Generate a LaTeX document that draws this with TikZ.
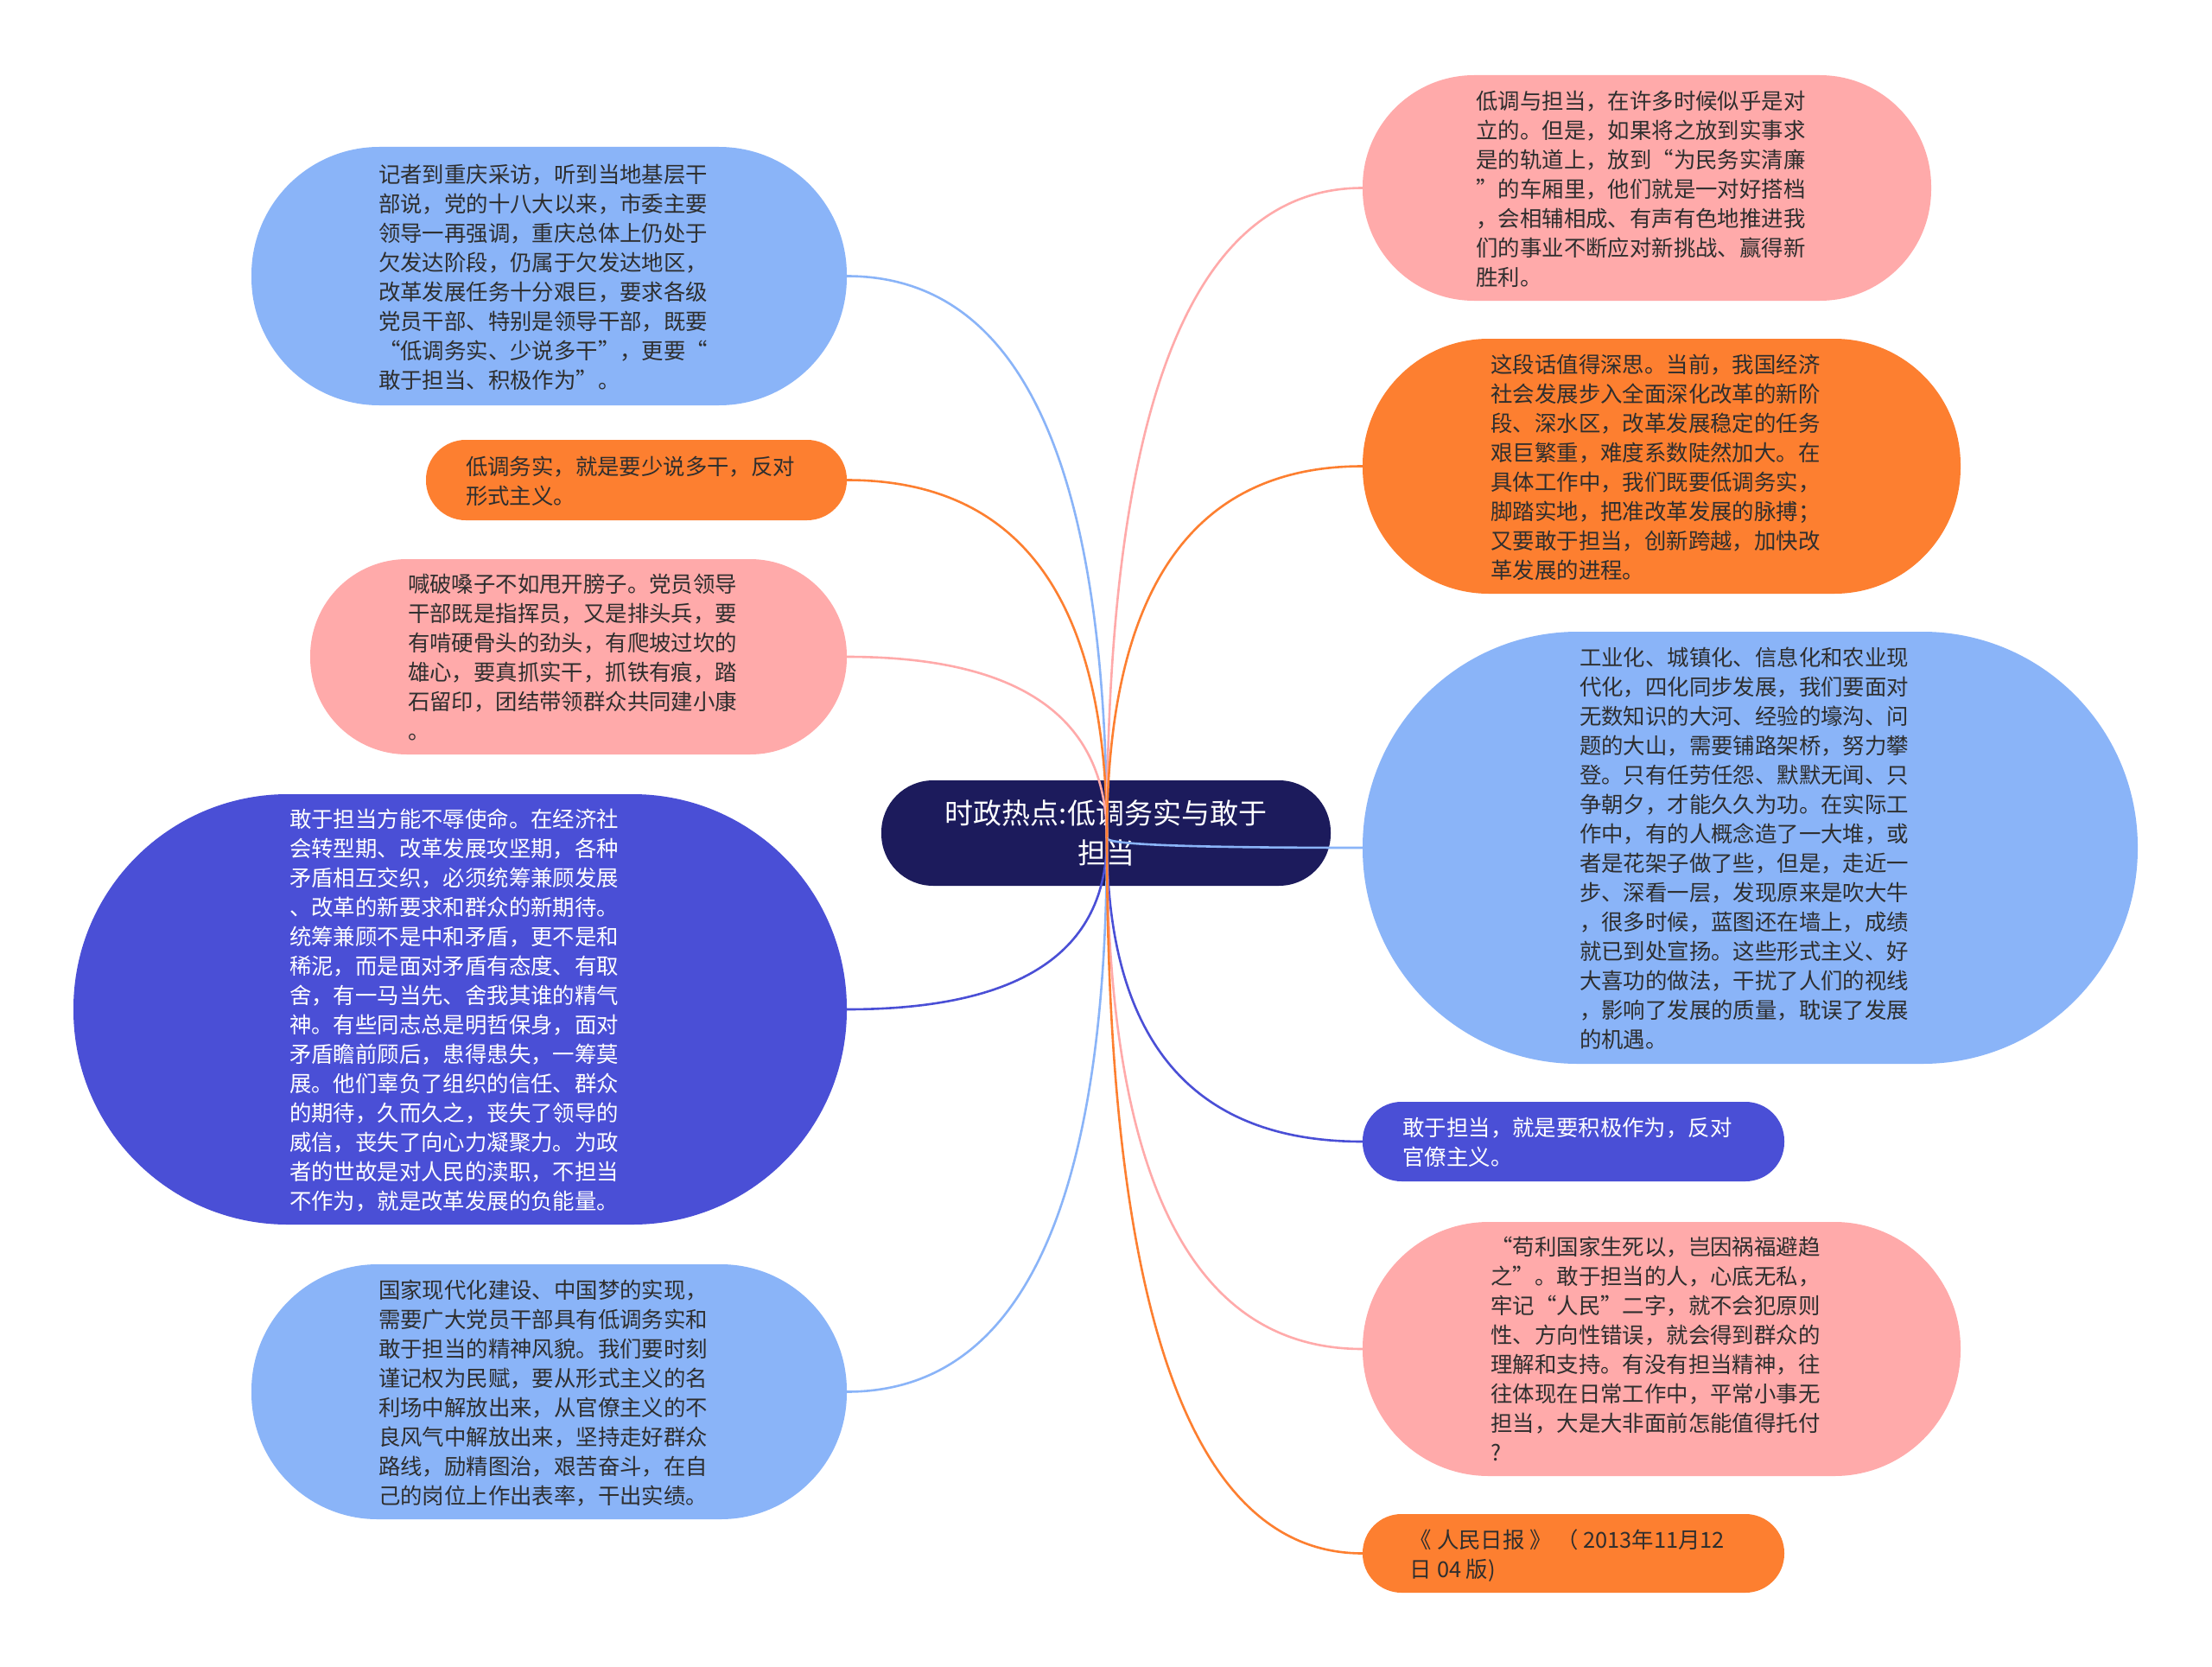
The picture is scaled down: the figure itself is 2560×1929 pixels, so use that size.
\documentclass[tikz,border=0pt]{standalone}
\usepackage{fontspec}
\setmainfont{Noto Sans CJK SC}
\usetikzlibrary{calc}
\definecolor{cnavy}{HTML}{1C1B5C}
\definecolor{clblue}{HTML}{8AB4F8}
\definecolor{corange}{HTML}{FD7F30}
\definecolor{cpink}{HTML}{FFAAAA}
\definecolor{cindigo}{HTML}{4A4FD6}
\definecolor{ctxt}{HTML}{2E2E2E}
\newcommand\mytab[1]{\raisebox{-4pt}[\height][\depth]{\begin{tabular}{@{}l@{\hspace{14pt}}}#1\end{tabular}}}
\begin{document}
\begin{tikzpicture}[x=1pt,y=-1pt,
  box/.style={inner sep=0pt, font=\fontsize{25.4pt}{34pt}\selectfont, text=ctxt},
  wbox/.style={box, text=white},
  conn/.style={line width=2.6pt, to path={.. controls ($(\tikztostart)!0.667!(\tikztostart |- \tikztotarget)$) and ($(\tikztotarget)!0.667!(\tikztostart |- \tikztotarget)$) .. (\tikztotarget)}}
]
\fill[white] (0,0) rectangle (2560,1929);
\useasboundingbox (0,0) rectangle (2560,1929);

% left nodes
\node[box, fill=clblue, minimum width=689pt, minimum height=299pt, rounded corners=148pt] (L1) at (635.5,319.5) {\mytab{记者到重庆采访，听到当地基层干\\部说，党的十八大以来，市委主要\\领导一再强调，重庆总体上仍处于\\欠发达阶段，仍属于欠发达地区，\\改革发展任务十分艰巨，要求各级\\党员干部、特别是领导干部，既要\\“低调务实、少说多干”，更要“\\敢于担当、积极作为”。}};
\node[box, fill=corange, minimum width=487pt, minimum height=93pt, rounded corners=46pt] (L2) at (736.5,555.5) {\mytab{低调务实，就是要少说多干，反对\\形式主义。}};
\node[box, fill=cpink, minimum width=621pt, minimum height=226pt, rounded corners=112pt] (L3) at (669.5,760) {\mytab{喊破嗓子不如甩开膀子。党员领导\\干部既是指挥员，又是排头兵，要\\有啃硬骨头的劲头，有爬坡过坎的\\雄心，要真抓实干，抓铁有痕，踏\\石留印，团结带领群众共同建小康\\。}};
\node[wbox, fill=cindigo, minimum width=895pt, minimum height=498pt, rounded corners=248pt] (L4) at (532.5,1168) {\mytab{敢于担当方能不辱使命。在经济社\\会转型期、改革发展攻坚期，各种\\矛盾相互交织，必须统筹兼顾发展\\、改革的新要求和群众的新期待。\\统筹兼顾不是中和矛盾，更不是和\\稀泥，而是面对矛盾有态度、有取\\舍，有一马当先、舍我其谁的精气\\神。有些同志总是明哲保身，面对\\矛盾瞻前顾后，患得患失，一筹莫\\展。他们辜负了组织的信任、群众\\的期待，久而久之，丧失了领导的\\威信，丧失了向心力凝聚力。为政\\者的世故是对人民的渎职，不担当\\不作为，就是改革发展的负能量。}};
\node[box, fill=clblue, minimum width=689pt, minimum height=295pt, rounded corners=146pt] (L5) at (635.5,1610.5) {\mytab{国家现代化建设、中国梦的实现，\\需要广大党员干部具有低调务实和\\敢于担当的精神风貌。我们要时刻\\谨记权为民赋，要从形式主义的名\\利场中解放出来，从官僚主义的不\\良风气中解放出来，坚持走好群众\\路线，励精图治，艰苦奋斗，在自\\己的岗位上作出表率，干出实绩。}};

% right nodes
\node[box, fill=cpink, minimum width=658pt, minimum height=261pt, rounded corners=129pt] (R1) at (1906,217.5) {\mytab{低调与担当，在许多时候似乎是对\\立的。但是，如果将之放到实事求\\是的轨道上，放到“为民务实清廉\\”的车厢里，他们就是一对好搭档\\，会相辅相成、有声有色地推进我\\们的事业不断应对新挑战、赢得新\\胜利。}};
\node[box, fill=corange, minimum width=692pt, minimum height=295pt, rounded corners=146pt] (R2) at (1923,539.5) {\mytab{这段话值得深思。当前，我国经济\\社会发展步入全面深化改革的新阶\\段、深水区，改革发展稳定的任务\\艰巨繁重，难度系数陡然加大。在\\具体工作中，我们既要低调务实，\\脚踏实地，把准改革发展的脉搏；\\又要敢于担当，创新跨越，加快改\\革发展的进程。}};
\node[box, fill=clblue, minimum width=897pt, minimum height=500pt, rounded corners=249pt] (R3) at (2025.5,981) {\mytab{工业化、城镇化、信息化和农业现\\代化，四化同步发展，我们要面对\\无数知识的大河、经验的壕沟、问\\题的大山，需要铺路架桥，努力攀\\登。只有任劳任怨、默默无闻、只\\争朝夕，才能久久为功。在实际工\\作中，有的人概念造了一大堆，或\\者是花架子做了些，但是，走近一\\步、深看一层，发现原来是吹大牛\\，很多时候，蓝图还在墙上，成绩\\就已到处宣扬。这些形式主义、好\\大喜功的做法，干扰了人们的视线\\，影响了发展的质量，耽误了发展\\的机遇。}};
\node[wbox, fill=cindigo, minimum width=488pt, minimum height=92pt, rounded corners=45pt] (R4) at (1821,1321) {\mytab{敢于担当，就是要积极作为，反对\\官僚主义。}};
\node[box, fill=cpink, minimum width=692pt, minimum height=294pt, rounded corners=146pt] (R5) at (1923,1561) {\mytab{“苟利国家生死以，岂因祸福避趋\\之”。敢于担当的人，心底无私，\\牢记“人民”二字，就不会犯原则\\性、方向性错误，就会得到群众的\\理解和支持。有没有担当精神，往\\往体现在日常工作中，平常小事无\\担当，大是大非面前怎能值得托付\\?}};
\node[box, fill=corange, minimum width=488pt, minimum height=91pt, rounded corners=45pt] (R6) at (1821,1797.5) {\mytab{《 人民日报 》 （ 2013年11月12\\日 04 版)}};

% center
\node[inner sep=0pt, fill=cnavy, text=white, align=center, font=\fontsize{33pt}{46pt}\selectfont, minimum width=520pt, minimum height=122pt, rounded corners=60pt] (ctr) at (1280,964) {时政热点:低调务实与敢于\\担当};
\coordinate (hub) at (1281,970);

% connectors
\draw[conn, clblue] (hub) to (L1.east);
\draw[conn, corange] (hub) to (L2.east);
\draw[conn, cpink] (hub) to (L3.east);
\draw[conn, cindigo] (hub) to (L4.east);
\draw[conn, clblue] (hub) to (L5.east);
\draw[conn, cpink] (hub) to (R1.west);
\draw[conn, corange] (hub) to (R2.west);
\draw[conn, clblue] (hub) to (R3.west);
\draw[conn, cindigo] (hub) to (R4.west);
\draw[conn, cpink] (hub) to (R5.west);
\draw[conn, corange] (hub) to (R6.west);
\end{tikzpicture}
\end{document}
